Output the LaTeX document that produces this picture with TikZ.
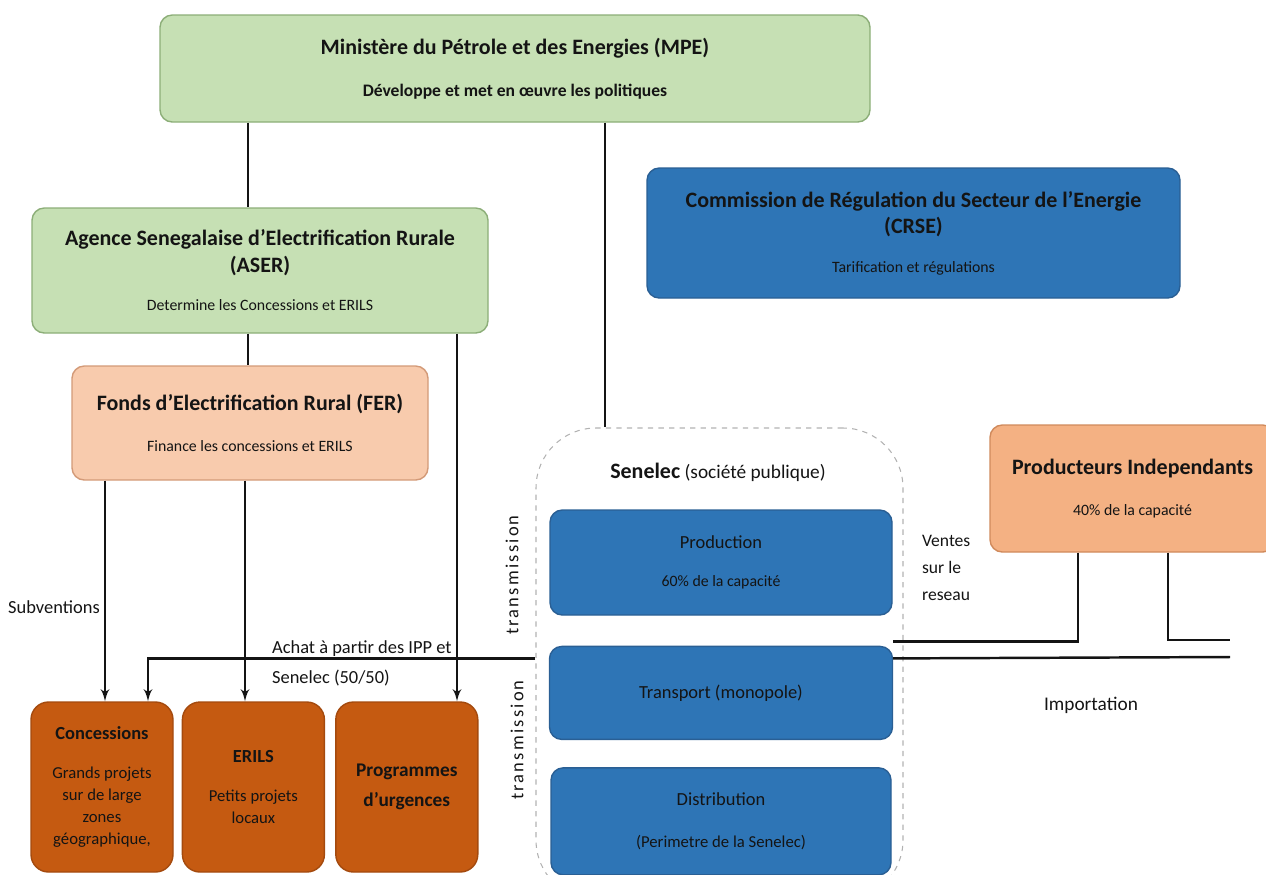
\documentclass[tikz,border=0pt]{standalone}
\usepackage{fontspec}
\setmainfont{Carlito}
\usepackage{xcolor}
\definecolor{greenfill}{HTML}{C6E0B4}
\definecolor{greenline}{HTML}{8CAE78}
\definecolor{bluefill}{HTML}{2E75B6}
\definecolor{blueline}{HTML}{2A5F94}
\definecolor{peachfill}{HTML}{F8CBAD}
\definecolor{peachline}{HTML}{D39A78}
\definecolor{orangefill}{HTML}{F4B183}
\definecolor{orangeline}{HTML}{D08A5C}
\definecolor{rustfill}{HTML}{C55A11}
\definecolor{rustline}{HTML}{A44A0E}
\definecolor{ink}{HTML}{141414}
\usetikzlibrary{arrows,arrows.meta}
\usetikzlibrary{positioning}
\newcommand{\bigtitle}{\fontsize{12.5}{15}\selectfont\bfseries}
\newcommand{\subbold}{\fontsize{10}{12}\selectfont\bfseries}
\newcommand{\subtext}{\fontsize{9}{11}\selectfont}
\tikzstyle{block} = [rectangle, draw, line width=0.8pt, rounded corners=7pt,
    align=center, inner sep=2pt, text=ink]
\tikzstyle{greenbox} = [block, fill=greenfill, draw=greenline, font=\bigtitle]
\tikzstyle{bluebox} = [block, fill=bluefill, draw=blueline, font=\fontsize{10.5}{13}\selectfont]
\tikzstyle{peachbox} = [block, fill=peachfill, draw=peachline, font=\bigtitle]
\tikzstyle{rustbox} = [block, fill=rustfill, draw=rustline, rounded corners=10pt,
    minimum width=2.84cm, minimum height=3.4cm, font=\fontsize{9.5}{12.5}\selectfont]
\tikzstyle{tag} = [text=ink, font=\fontsize{10.5}{17}\selectfont, inner sep=1pt]
\tikzstyle{line} = [draw, line width=1.4pt, color=ink]
\tikzstyle{arrowline} = [line, -latex']

\begin{document}
\begin{tikzpicture}[auto]
    \useasboundingbox (0,0) rectangle (25.32,-17.48);
    % Place nodes
    \node [greenbox, minimum width=14.2cm, minimum height=2.14cm] (mpe) at (10.3,-1.37)
        {Ministère du Pétrole et des Energies (MPE)\\[9pt]{\subbold Développe et met en œuvre les politiques}};
    \node [bluebox, font=\bigtitle, minimum width=10.66cm, minimum height=2.6cm] (crse) at (18.27,-4.66)
        {Commission de Régulation du Secteur de l’Energie\\(CRSE)\\[7pt]{\subtext\mdseries Tarification et régulations}};
    \node [greenbox, minimum width=9.12cm, minimum height=2.5cm] (aser) at (5.2,-5.41)
        {Agence Senegalaise d’Electrification Rurale\\(ASER)\\[7pt]{\subtext\mdseries Determine les Concessions et ERILS}};
    \node [peachbox, minimum width=7.12cm, minimum height=2.28cm] (fer) at (5.0,-8.46)
        {Fonds d’Electrification Rural (FER)\\[8pt]{\subtext\mdseries Finance les concessions et ERILS}};

    % Senelec
    \node [draw=gray!60, dashed, line width=0.6pt, rounded corners=1.2cm,
        minimum width=7.34cm, minimum height=9.44cm] (senelec) at (14.39,-13.28) {};
    \node [tag, font=\fontsize{11}{13}\selectfont] (senlabel) at (14.36,-9.44)
        {{\fontsize{12.5}{14}\selectfont\bfseries Senelec} (société publique)};
    \node [bluebox, minimum width=6.84cm, minimum height=2.1cm] (prodn) at (14.42,-11.25)
        {Production\\[9pt]{\subtext 60\% de la capacité}};
    \node [bluebox, minimum width=6.86cm, minimum height=1.86cm, below=0.6cm of prodn] (transp)
        {Transport (monopole)};
    \node [bluebox, minimum width=6.8cm, minimum height=2.14cm, below=0.54cm of transp] (distr)
        {Distribution\\[11pt]{\fontsize{9.5}{11}\selectfont (Perimetre de la Senelec)}};
    \node [block, fill=orangefill, draw=orangeline, font=\bigtitle,
        minimum width=5.7cm, minimum height=2.54cm] (ipp) at (22.65,-9.77)
        {Producteurs Independants\\[8pt]{\subtext\mdseries 40\% de la capacité}};

    % bottom row
    \node [rustbox] (conc) at (2.04,-15.74)
        {{\fontsize{10.5}{12}\selectfont\bfseries Concessions}\\[10pt]Grands projets\\sur de large\\zones\\géographique,};
    \node [rustbox, right=0.16cm of conc] (erils)
        {{\fontsize{10.5}{12}\selectfont\bfseries ERILS}\\[10pt]Petits projets\\locaux};
    \node [rustbox, right=0.2cm of erils, font=\fontsize{11}{17}\selectfont\bfseries] (prog)
        {Programmes\\d’urgences};

    % labels
    \node [tag] (subv) at (1.08,-12.14) {Subventions};
    \node [tag, anchor=west, align=left] (achat) at (5.4,-13.26) {Achat à partir des IPP et\\Senelec (50/50)};
    \node [tag, anchor=west, align=left, font=\fontsize{10}{15.5}\selectfont] (ventes) at (18.4,-11.36) {Ventes\\sur le\\reseau};
    \node [tag, font=\fontsize{11}{13}\selectfont] (impo) at (21.82,-14.1) {Importation};
    \node [tag, rotate=90, font=\fontsize{10.5}{13}\selectfont\addfontfeatures{LetterSpace=12}] (trans1) at (10.24,-11.5) {transmission};
    \node [tag, rotate=90, font=\fontsize{10.5}{13}\selectfont\addfontfeatures{LetterSpace=12}] (trans2) at (10.34,-14.8) {transmission};
    \coordinate (ippend) at (24.6,-12.8);
    \coordinate (gridend) at (24.6,-13.14);

    % Draw edges
    \path [line] ([xshift=-5.34cm]mpe.south) -- ([xshift=-5.34cm]mpe.south |- aser.north);
    \path [line] ([xshift=1.8cm]mpe.south) -- ([xshift=1.8cm]mpe.south |- senelec.north);
    \path [line] ([xshift=-0.24cm]aser.south) -- ([xshift=-0.24cm]aser.south |- fer.north);
    \path [arrowline] ([xshift=3.94cm]aser.south) -- ([xshift=3.94cm]aser.south |- prog.north);
    \path [arrowline] ([xshift=-2.9cm]fer.south) -- ([xshift=-2.9cm]fer.south |- conc.north);
    \path [arrowline] ([xshift=-0.1cm]fer.south) -- ([xshift=-0.1cm]fer.south |- erils.north);
    \path [arrowline] ([yshift=0.69cm]transp.west -| senelec.west) -| ([xshift=0.92cm]conc.north);
    \path [line] ([yshift=0.69cm]transp.east) -- (gridend);
    \path [line] ([xshift=-1.09cm]ipp.south) |- ([yshift=1.03cm]transp.east);
    \path [line] ([xshift=0.71cm]ipp.south) |- (ippend);
\end{tikzpicture}
\end{document}
